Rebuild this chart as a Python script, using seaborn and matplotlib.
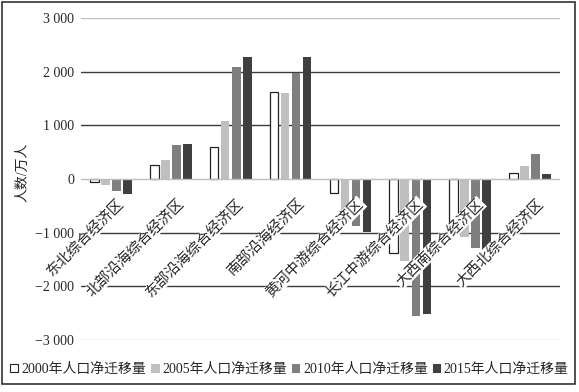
import matplotlib
matplotlib.use("Agg")
import matplotlib.pyplot as plt
from matplotlib.patches import Patch, Rectangle
from matplotlib.transforms import ScaledTranslation
import seaborn as sns
import pandas as pd

categories = ['东北综合经济区', '北部沿海综合经济区', '东部沿海综合经济区', '南部沿海经济区',
              '黄河中游综合经济区', '长江中游综合经济区', '大西南综合经济区', '大西北综合经济区']
series_names = ['2000年人口净迁移量', '2005年人口净迁移量', '2010年人口净迁移量', '2015年人口净迁移量']
v2000 = [-50, 270, 605, 1630, -255, -1370, -950, 115]
v2005 = [-110, 355, 1075, 1605, -600, -1520, -1085, 245]
v2010 = [-225, 635, 2090, 1975, -885, -2550, -1280, 475]
v2015 = [-285, 660, 2280, 2280, -995, -2510, -1565, 85]
yticks = [-3000, -2000, -1000, 0, 1000, 2000, 3000]
ytick_labels = ['\u22123 000', '\u22122 000', '\u22121 000', '0', '1 000', '2 000', '3 000']

colors = ['#ffffff', '#bfbfbf', '#7f7f7f', '#3f3f3f']

sns.set_style("white")
plt.rcParams['font.family'] = ['Liberation Serif', 'Noto Sans CJK SC']

rows = []
for name, vals in zip(series_names, [v2000, v2005, v2010, v2015]):
    for c, v in zip(categories, vals):
        rows.append({'区域': c, '系列': name, '值': v})
df = pd.DataFrame(rows)

fig = plt.figure(figsize=(5.79, 3.92), dpi=100)
ax = fig.add_axes([81 / 579, 1 - 340 / 392, (560 - 81) / 579, (340 - 18) / 392])

sns.barplot(data=df, x='区域', y='值', hue='系列', order=categories, hue_order=series_names,
            palette=dict(zip(series_names, colors)), width=0.74, gap=0.22,
            legend=False, ax=ax, saturation=1, linewidth=0)

for cont, col in zip(ax.containers, colors):
    for p in cont:
        if col == '#ffffff':
            p.set_edgecolor('#222222')
            p.set_linewidth(0.9)
        p.set_zorder(2)

ax.set_ylim(-3000, 3000)
ax.set_xlim(-0.5, len(categories) - 0.5)
ax.set_yticks(yticks)
ax.set_yticklabels(ytick_labels, fontsize=10)
ax.tick_params(axis='y', length=0, pad=5)
ax.set_xticks(range(len(categories)))
ax.set_xticklabels([])
ax.tick_params(axis='x', length=0)
ax.set_xlabel('')
ax.set_ylabel('')
for s in ['top', 'right', 'left', 'bottom']:
    ax.spines[s].set_visible(False)

for yv in yticks:
    col = '#bdbdbd' if yv in (-3000, 0, 3000) else '#3a3a3a'
    ax.axhline(yv, color=col, linewidth=1.0, zorder=1 if yv != 0 else 2.2)

off = ScaledTranslation(0.11, -0.225, fig.dpi_scale_trans)
for i, name in enumerate(categories):
    ax.text(i, 0, name, rotation=45, ha='right', va='center', rotation_mode='anchor',
            fontsize=10.5, transform=ax.transData + off, zorder=5,
            bbox=dict(facecolor='white', edgecolor='none', pad=0.4))

fig.text(23 / 579, 1 - 172 / 392, '人数/万人', rotation=90, ha='center', va='center', fontsize=10)

handles = [Patch(facecolor=c, edgecolor='#222222' if c == '#ffffff' else c, linewidth=0.8) for c in colors]
fig.legend(handles, series_names, loc='center', bbox_to_anchor=(0.5, 1 - 369 / 392), ncol=4,
           frameon=False, fontsize=10, handlelength=0.55, handleheight=0.55, handletextpad=0.25,
           columnspacing=0.35, borderaxespad=0)

fig.patches.append(Rectangle((2 / 579, 1 - 384 / 392), 573 / 579, 382 / 392, transform=fig.transFigure,
                             fill=False, edgecolor='#333333', linewidth=1.2))

fig.savefig('out.png', dpi=100)
